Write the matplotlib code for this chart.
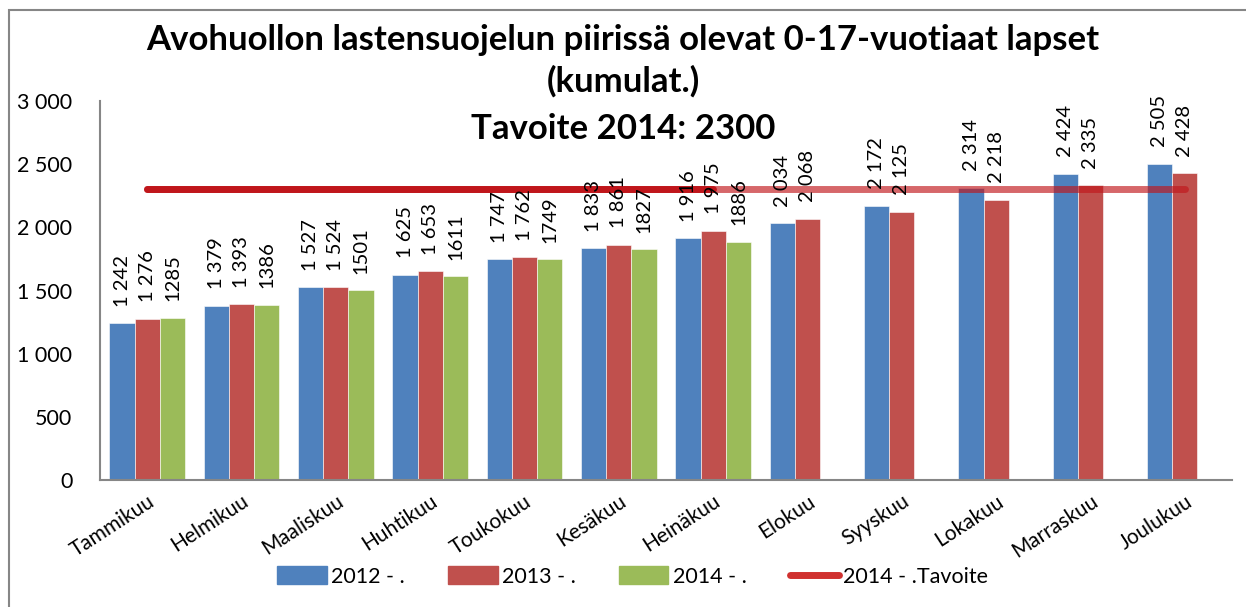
import matplotlib.pyplot as plt
import numpy as np
from matplotlib.patches import Rectangle
from matplotlib.lines import Line2D

plt.rcParams['font.family'] = ['Lato', 'DejaVu Sans']

# kuukaudet ja arvot
months = ["Tammikuu", "Helmikuu", "Maaliskuu", "Huhtikuu", "Toukokuu", "Kesäkuu",
          "Heinäkuu", "Elokuu", "Syyskuu", "Lokakuu", "Marraskuu", "Joulukuu"]
v2012 = [1242, 1379, 1527, 1625, 1747, 1833, 1916, 2034, 2172, 2314, 2424, 2505]
v2013 = [1276, 1393, 1524, 1653, 1762, 1861, 1975, 2068, 2125, 2218, 2335, 2428]
v2014 = [1285, 1386, 1501, 1611, 1749, 1827, 1886]
target = [2300] * 12

blue, red, green = '#4F81BD', '#C0504D', '#9BBB59'
line_col = '#C0161B'

fig = plt.figure(figsize=(12.46, 6.07), dpi=100)
ax = fig.add_axes([0.0803, 0.2092, 0.9085, 0.6244])

x = np.arange(len(months))
w = 0.8 / 3

def fmt_space(v):
    return f"{v:,}".replace(",", " ")

ax.bar(x - w, v2012, width=w, color=blue, edgecolor='white', linewidth=0.4, zorder=2)
ax.bar(x, v2013, width=w, color=red, edgecolor='white', linewidth=0.4, zorder=2)
x14 = np.arange(len(v2014))
ax.bar(x14 + w, v2014, width=w, color=green, edgecolor='white', linewidth=0.4, zorder=2)

# tavoiteviiva: koko vuosi läpikuultava, tumma osuus 2014 kuukausille
ax.plot(x, target, color=line_col, alpha=0.65, lw=5, solid_capstyle='round', zorder=3)
ax.plot(x14, target[:len(v2014)], color=line_col, lw=5, solid_capstyle='round', zorder=4)

# arvotunnisteet
for xs, vals, f in [(x - w, v2012, fmt_space), (x, v2013, fmt_space), (x14 + w, v2014, str)]:
    for xi, v in zip(xs, vals):
        ax.text(xi, v + 130, f(v), rotation=90, ha='center', va='bottom', fontsize=14.5, zorder=5)

ax.set_xlim(-0.5, 11.5)
ax.set_ylim(0, 3000)
ax.set_yticks(range(0, 3001, 500))
ax.set_yticklabels([fmt_space(t) for t in range(0, 3001, 500)], fontsize=15.5)
ax.set_xticks(x)
ax.set_xticklabels(months, rotation=33, ha='right', rotation_mode='anchor', fontsize=15)
ax.tick_params(axis='both', length=0, pad=8)
ax.tick_params(axis='y', pad=20)
for s in ['top', 'right']:
    ax.spines[s].set_visible(False)
for s in ['left', 'bottom']:
    ax.spines[s].set_color('#868686')
    ax.spines[s].set_linewidth(1.5)

fig.text(0.5, 0.934, "Avohuollon lastensuojelun piirissä olevat 0-17-vuotiaat lapset",
         ha='center', va='center', fontsize=25, fontweight='bold')
fig.text(0.5, 0.866, "(kumulat.)", ha='center', va='center', fontsize=25, fontweight='bold')
fig.text(0.5, 0.787, "Tavoite 2014: 2300", ha='center', va='center', fontsize=25, fontweight='bold')

# ulkoreunus
fig.patches.append(Rectangle((0.0072, -0.1), 1.2, 1.084, transform=fig.transFigure,
                             fill=False, edgecolor='#868686', linewidth=1.5))

handles = [Rectangle((0, 0), 1, 1, color=blue), Rectangle((0, 0), 1, 1, color=red),
           Rectangle((0, 0), 1, 1, color=green),
           Line2D([0], [0], color='#D0312F', lw=5, solid_capstyle='round')]
fig.legend(handles, ["2012 - .", "2013 - .", "2014 - .", "2014 - .Tavoite"],
           loc='center', bbox_to_anchor=(0.508, 0.05), ncol=4, frameon=False,
           fontsize=15.5, handlelength=2.3, handleheight=0.9, columnspacing=2.0,
           handletextpad=0.2)

fig.savefig('out.png', dpi=100)
